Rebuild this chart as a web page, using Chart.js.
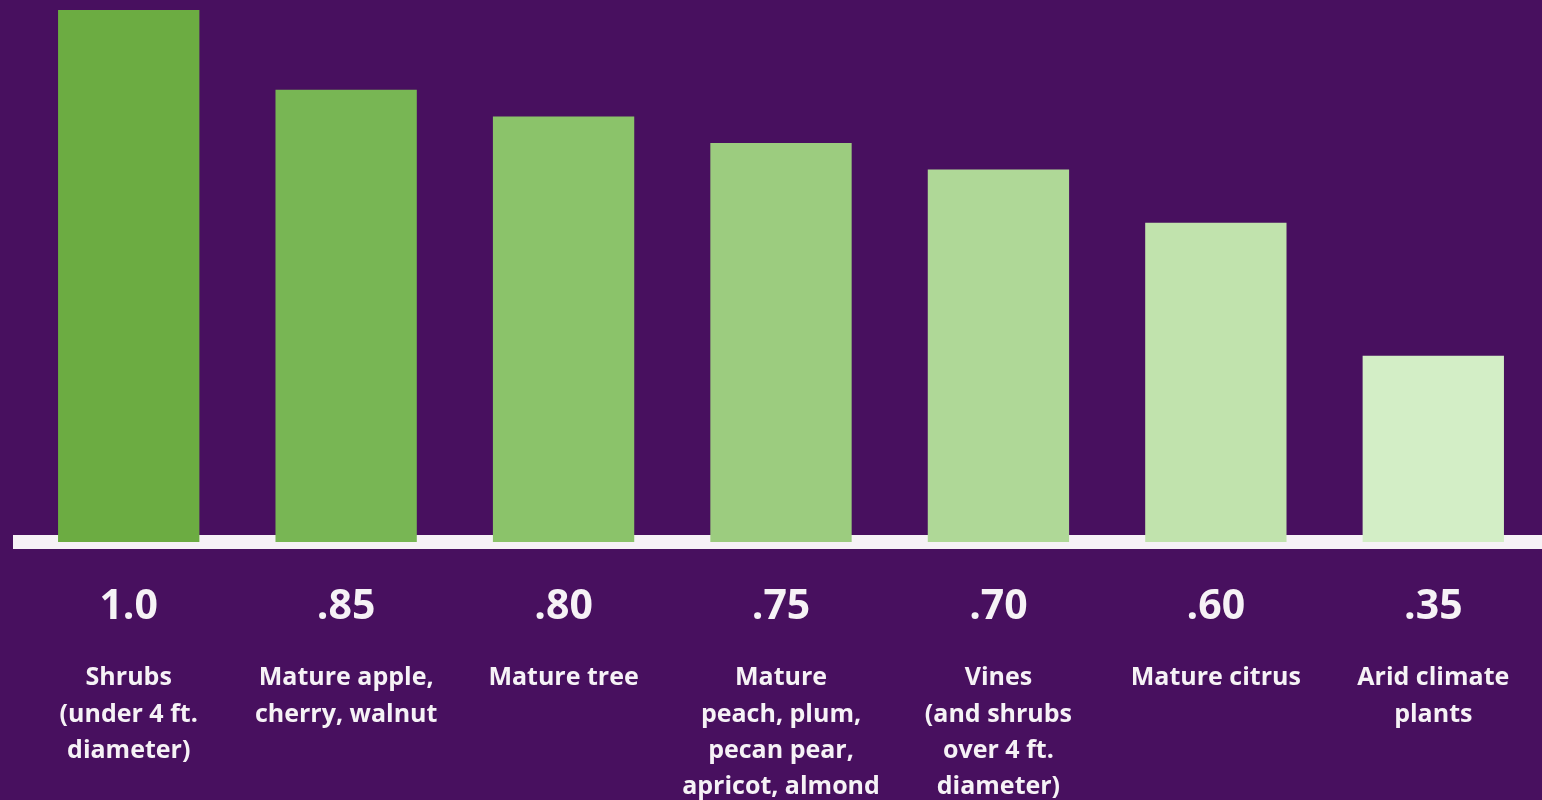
<!DOCTYPE html>
<html>
<head>
<meta charset="utf-8">
<title>Crop coefficients</title>
<script src="https://cdn.jsdelivr.net/npm/chart.js@4/dist/chart.umd.min.js"></script>
<style>
  html, body { margin: 0; padding: 0; background: #48105f; }
  #wrap { width: 1542px; height: 800px; position: relative; }
</style>
</head>
<body>
<div id="wrap"><canvas id="chart"></canvas></div>
<script>
// Plant types and their coefficients
const categories = [
  ['Shrubs', '(under 4 ft.', 'diameter)'],
  ['Mature apple,', 'cherry, walnut'],
  ['Mature tree'],
  ['Mature', 'peach, plum,', 'pecan pear,', 'apricot, almond'],
  ['Vines', '(and shrubs', 'over 4 ft.', 'diameter)'],
  ['Mature citrus'],
  ['Arid climate', 'plants']
];
const coefficients = [1.0, 0.85, 0.80, 0.75, 0.70, 0.60, 0.35];
const valueLabels = coefficients.map(v => v >= 1 ? v.toFixed(1) : v.toFixed(2).replace(/^0/, ''));

// darker green for the largest, fading to pale green
const barColors = ['#6cac42', '#78b654', '#8bc36a', '#9ccc7f', '#afd897', '#c1e3ad', '#d3eec6'];

const white = '#f6f2f6';
const font = '"Open Sans", "Liberation Sans", sans-serif';

new Chart(document.getElementById('chart'), {
  type: 'bar',
  data: {
    labels: valueLabels,
    datasets: [{
      data: coefficients,
      backgroundColor: barColors,
      borderWidth: 0,
      barPercentage: 0.65,
      categoryPercentage: 1
    }]
  },
  options: {
    responsive: true,
    maintainAspectRatio: false,
    animation: false,
    layout: { padding: { top: 10, left: 20, right: 0, bottom: 0 } },
    plugins: { legend: { display: false }, tooltip: { enabled: false } },
    scales: {
      y: { display: false, min: 0, max: 1 },
      x: {
        z: 1,
        weight: 0,
        grid: { display: false },
        border: { display: true, color: white, width: 14 },
        ticks: {
          color: white,
          font: { family: font, size: 41, weight: 'bold' },
          padding: 33,
          maxRotation: 0,
          autoSkip: false
        },
        afterFit: s => { s.height = 110; }
      },
      cat: {
        type: 'category',
        position: 'bottom',
        weight: 1,
        labels: categories,
        grid: { display: false },
        border: { display: false },
        ticks: {
          color: white,
          font: { family: font, size: 25, weight: 'bold', lineHeight: 1.45 },
          padding: 0,
          maxRotation: 0,
          autoSkip: false
        },
        afterFit: s => { s.height = 148; }
      }
    }
  }
});
</script>
</body>
</html>
